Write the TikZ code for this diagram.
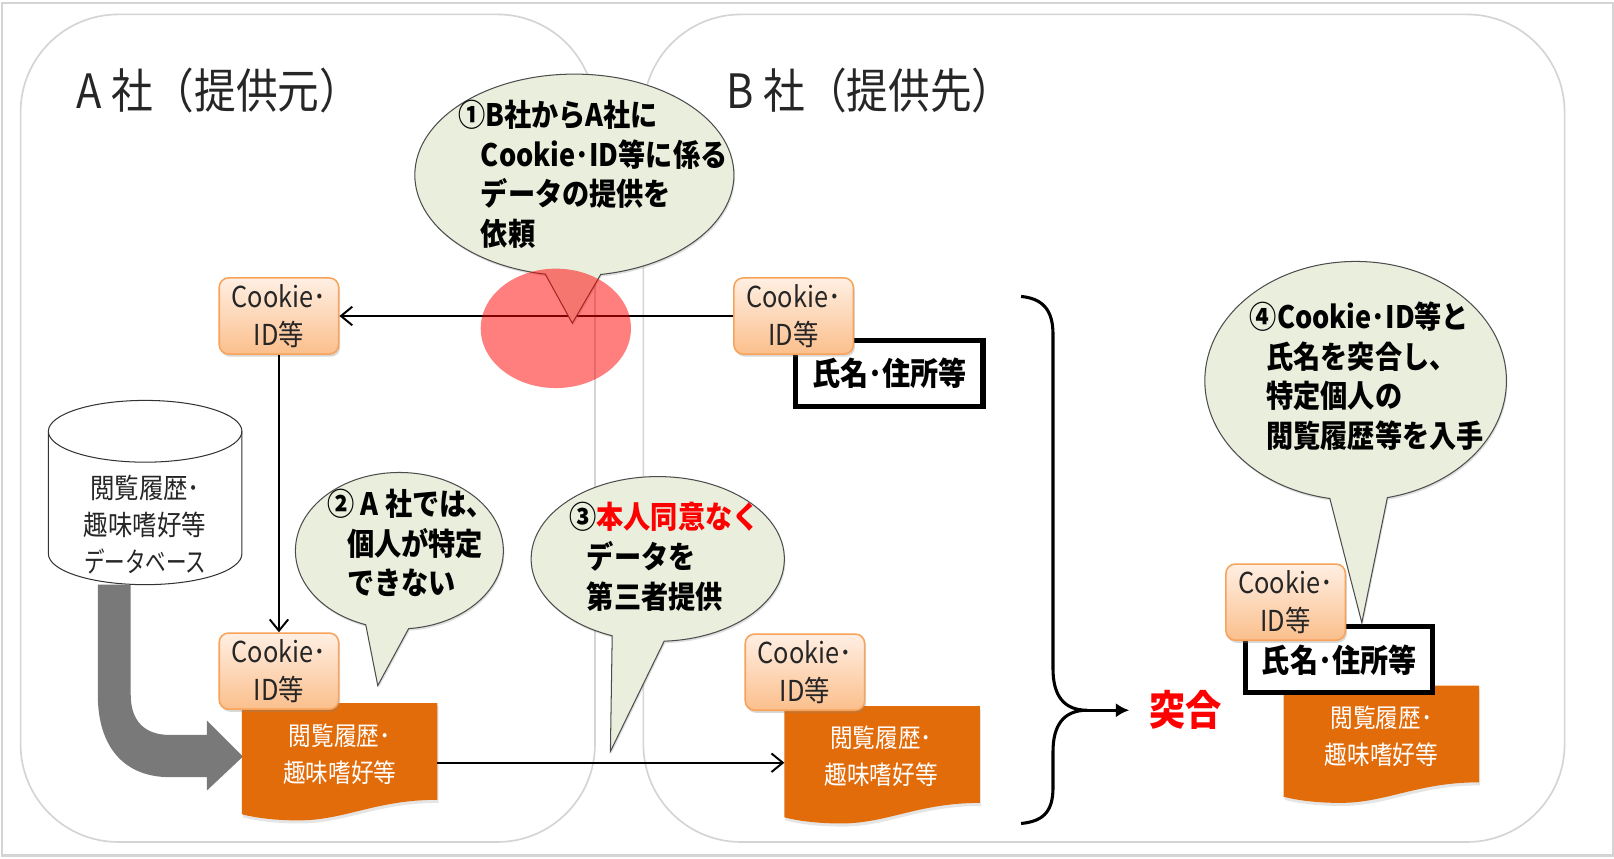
\documentclass[tikz,border=0pt]{standalone}
\usepackage{fontspec}
\setmainfont[FakeStretch=0.88]{Noto Sans CJK JP}
\usetikzlibrary{shapes.geometric,shapes.callouts,arrows.meta,shadows,calc}
\definecolor{co}{HTML}{EAEEDD}
\definecolor{dococ}{HTML}{E36C0A}
\definecolor{fr}{HTML}{D4D4D4}
\definecolor{ckb}{HTML}{F8A25A}
\definecolor{ckt}{HTML}{FFEFE3}
\definecolor{ckm}{HTML}{FBBF8C}
\tikzset{
 x=1pt,y=-1pt,
 panel/.style={draw=fr,line width=1.6pt,rounded corners=95pt},
 cookie/.style={draw=ckb,line width=1.5pt,rounded corners=9pt,minimum width=116pt,minimum height=74pt,inner sep=0pt,align=center,top color=ckt,bottom color=ckm,font=\fontsize{28}{37}\selectfont,text=black!85,drop shadow={shadow xshift=1.5pt,shadow yshift=-2.5pt,opacity=.3}},
 namebox/.style={draw=black,fill=white,line width=5pt,minimum width=182pt,minimum height=64pt,inner sep=0pt,font=\fontsize{31}{34}\selectfont\bfseries},
 bubble/.style={ellipse callout,draw=black!70,line width=1pt,fill=co,inner sep=0pt,drop shadow={shadow xshift=1pt,shadow yshift=-2pt,opacity=.25}},
 btext/.style={align=left,inner sep=0pt,font=\fontsize{30}{38.5}\selectfont\bfseries},
 doctext/.style={text=white,align=center,inner sep=0pt,font=\fontsize{25}{36}\selectfont},
 title/.style={inner sep=0pt,anchor=west,font=\fontsize{46}{50}\selectfont,text=black!85},
 link/.style={draw=black,line width=1.9pt,-{Straight Barb[length=11pt,width=18pt,line width=1.9pt]}},
}
\newcommand{\docshape}[3]{% left, top, name
 \fill[dococ,drop shadow={shadow xshift=1pt,shadow yshift=-3pt,opacity=.2}] (#1,#2) -- (#1+190,#2) -- (#1+190,#2+94)
   .. controls (#1+130,#2+94) and (#1+100,#2+114) .. (#1+55,#2+114) .. controls (#1+35,#2+114) and (#1+15,#2+112) .. (#1,#2+108) -- cycle;
 \coordinate (#3) at (#1+95,#2+47);
 \coordinate (#3l) at (#1,#2+50);
 \coordinate (#3r) at (#1+190,#2+50);
}
\begin{document}
\begin{tikzpicture}
\useasboundingbox (0,0) rectangle (1568,834);
\fill[white] (0,0) rectangle (1568,834);
\draw[fr,line width=2.5pt] (2,3) rectangle (1567,831);
% panels
\draw[panel] (20,14) rectangle (578,818);
\draw[panel] (625,14) rectangle (1520,818);
\node[title] (ta) at (74,88) {A 社（提供元）};
\node[title] (tb) at (706,88) {B 社（提供先）};
% database
\draw[draw=black!80,line width=1pt,fill=white] (47,419) -- (47,538) .. controls (47,554.6) and (89,568) .. (141,568) .. controls (193,568) and (235,554.6) .. (235,538) -- (235,419) .. controls (235,402.4) and (193,389) .. (141,389) .. controls (89,389) and (47,402.4) .. (47,419) -- cycle;
\draw[draw=black!80,line width=1pt] (47,419) .. controls (47,435.6) and (89,449) .. (141,449) .. controls (193,449) and (235,435.6) .. (235,419);
\node[inner sep=0pt,align=center,font=\fontsize{27}{36}\selectfont,text=black!85] (dbt) at (141,510) {閲覧履歴･\\趣味嗜好等\\\scalebox{.84}[1]{データベース}};
% thick arrow
\fill[gray!95!black] (95,568) -- (127,568) -- (127,675) .. controls (127,700) and (140,714) .. (165,714) -- (201,714) -- (201,700) -- (236,735) -- (201,768) -- (201,755) -- (165,755) .. controls (120,755) and (95,725) .. (95,675) -- cycle;
% documents
\docshape{235}{683}{d1}
\docshape{762}{686}{d2}
\docshape{1247}{666}{d3}
\node[doctext] (d1t) at (330,733) {閲覧履歴･\\趣味嗜好等};
\node[doctext] (d2t) at (856,735) {閲覧履歴･\\趣味嗜好等};
\node[doctext] (d3t) at (1342,715) {閲覧履歴･\\趣味嗜好等};
% name boxes
\node[namebox] (n1) at (864,363) {氏名･住所等};
\node[namebox] (n2) at (1301,641) {氏名･住所等};
% cookies
\node[cookie] (c1) at (271,307) {Cookie･\\ID等};
\node[cookie] (c2) at (771,307) {Cookie･\\ID等};
\node[cookie] (c3) at (271,652) {Cookie･\\ID等};
\node[cookie] (c4) at (782,653) {Cookie･\\ID等};
\node[cookie] (c5) at (1249,585) {Cookie･\\ID等};
% connectors
\draw[link] (c2.west) -- (c1.east);
\draw[link] (c1.south) -- (c3.north);
\draw[link] (d1r |- 0,741) -- (d2l |- 0,741);
% brace
\coordinate (bt) at (992,288);
\coordinate (bb) at (992,800);
\coordinate (bm) at (1056,690);
\draw[black,line width=3pt] (bt) .. controls (1012,290) and (1023,300) .. (1023,325) -- (1023,650) .. controls (1023,675) and (1033,690) .. (bm) .. controls (1033,690) and (1023,705) .. (1023,730) -- (1023,765) .. controls (1023,790) and (1012,798) .. (bb);
\node[inner sep=0pt,text=red,font=\fontsize{40}{46}\selectfont\bfseries] (tg) at (1152,690) {突合};
\draw[black,line width=3pt,-{Latex[length=13pt,width=14pt]}] (bm) -- (tg.west -| 1097,0);
% callouts
\node[bubble,minimum width=310pt,minimum height=196pt,callout absolute pointer={(556,314)},callout pointer arc=20] (b1) at (558,170) {};
\node[btext,anchor=north west] (b1t) at (467,97) {\hspace*{-22pt}①B社からA社に\\Cookie･ID等に係る\\データの提供を\\依頼};
\node[bubble,minimum width=202pt,minimum height=152pt,callout absolute pointer={(367,666)},callout pointer arc=24] (b2) at (388,535) {};
\node[btext,anchor=north west] (b2t) at (337,475) {\hspace*{-19pt}② A 社では、\\個人が特定\\できない};
\node[bubble,minimum width=246pt,minimum height=160pt,callout absolute pointer={(593,730)},callout pointer arc=24] (b3) at (639,543) {};
\node[btext,anchor=north west] (b3t) at (570,488) {\hspace*{-17pt}③\textcolor{red}{本人同意なく}\\データを\\第三者提供};
\node[bubble,minimum width=293pt,minimum height=232pt,callout absolute pointer={(1323,605)},callout pointer arc=22] (b4) at (1317,370) {};
\node[btext,anchor=north west] (b4t) at (1230,293) {\hspace*{-16pt}④Cookie･ID等と\\氏名を突合し、\\特定個人の\\閲覧履歴等を入手};
% highlight
\fill[red,opacity=.5] (540,319) ellipse (73pt and 58pt);
\end{tikzpicture}
\end{document}
